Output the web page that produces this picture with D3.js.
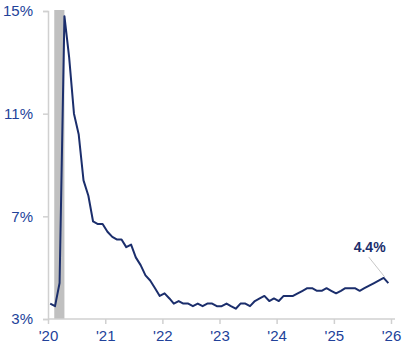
<!DOCTYPE html>
<html>
<head>
<meta charset="utf-8">
<script src="https://cdn.jsdelivr.net/npm/d3@7"></script>
<style>
  html, body { margin: 0; padding: 0; background: #fff; }
  svg { display: block; font-family: "Liberation Sans", Arial, sans-serif; }
</style>
</head>
<body>
<svg id="chart" width="406" height="348"></svg>
<script>
// Monthly unemployment rate (%), Jan 2020 – Dec 2025 (Oct 2025 not published)
const months = [
  "2020-01","2020-02","2020-03","2020-04","2020-05","2020-06","2020-07","2020-08","2020-09","2020-10","2020-11","2020-12",
  "2021-01","2021-02","2021-03","2021-04","2021-05","2021-06","2021-07","2021-08","2021-09","2021-10","2021-11","2021-12",
  "2022-01","2022-02","2022-03","2022-04","2022-05","2022-06","2022-07","2022-08","2022-09","2022-10","2022-11","2022-12",
  "2023-01","2023-02","2023-03","2023-04","2023-05","2023-06","2023-07","2023-08","2023-09","2023-10","2023-11","2023-12",
  "2024-01","2024-02","2024-03","2024-04","2024-05","2024-06","2024-07","2024-08","2024-09","2024-10","2024-11","2024-12",
  "2025-01","2025-02","2025-03","2025-04","2025-05","2025-06","2025-07","2025-08","2025-09","2025-11","2025-12"
];
const rates = [
  3.6,3.5,4.4,14.8,13.2,11.0,10.2,8.4,7.8,6.8,6.7,6.7,
  6.4,6.2,6.1,6.1,5.8,5.9,5.4,5.1,4.7,4.5,4.2,3.9,
  4.0,3.8,3.6,3.7,3.6,3.6,3.5,3.6,3.5,3.6,3.6,3.5,
  3.5,3.6,3.5,3.4,3.6,3.6,3.5,3.7,3.8,3.9,3.7,3.8,
  3.7,3.9,3.9,3.9,4.0,4.1,4.2,4.2,4.1,4.1,4.2,4.1,
  4.0,4.1,4.2,4.2,4.2,4.1,4.2,4.3,4.4,4.6,4.4
];
const yTicks = [3, 7, 11, 15];
const xTickYears = [2020, 2021, 2022, 2023, 2024, 2025, 2026];
const xTickLabels = ["'20","'21","'22","'23","'24","'25","'26"];
const recessionStart = "2020-02-10";
const recessionEnd = "2020-04-15";
const annotationText = "4.4%";

const svg = d3.select("#chart");
const parseMonth = s => { const [y, m] = s.split("-").map(Number); return new Date(y, m - 1, 15); };
const data = months.map((m, i) => ({ date: parseMonth(m), value: rates[i] }));

const x = d3.scaleTime()
  .domain([new Date(2020, 0, 1), new Date(2026, 0, 1)])
  .range([48, 391]);
const y = d3.scaleLinear().domain([3, 15]).range([319, 11]);

const textColor = "#22429a";
const axisColor = "#d0d0d0";

// recession shading
svg.append("rect")
  .attr("x", x(new Date(recessionStart)))
  .attr("y", y(15) - 1)
  .attr("width", x(new Date(recessionEnd)) - x(new Date(recessionStart)))
  .attr("height", y(3) - y(15) + 1)
  .attr("fill", "#c0c0c0");

// y axis
const yAxis = svg.append("g").attr("transform", "translate(48,0)")
  .call(d3.axisLeft(y).tickValues(yTicks).tickFormat(d => d + "%").tickSize(5).tickPadding(10));
yAxis.select(".domain").attr("stroke", axisColor).attr("stroke-width", 1.5);
yAxis.selectAll(".tick line").attr("stroke", axisColor).attr("stroke-width", 1.5);
yAxis.selectAll(".tick text").attr("fill", textColor).attr("font-size", 15)
  .attr("font-family", "Liberation Sans, Arial, sans-serif");

// x axis
const xAxis = svg.append("g").attr("transform", "translate(0,319)")
  .call(d3.axisBottom(x)
    .tickValues(xTickYears.map(yr => new Date(yr, 0, 1)))
    .tickFormat((d, i) => xTickLabels[i])
    .tickSize(5).tickPadding(6));
xAxis.select(".domain").attr("stroke", axisColor).attr("stroke-width", 1.5)
  .attr("d", "M48,0H395");
xAxis.selectAll(".tick line").attr("stroke", axisColor).attr("stroke-width", 1.5);
xAxis.selectAll(".tick text").attr("fill", textColor).attr("font-size", 15)
  .attr("font-family", "Liberation Sans, Arial, sans-serif");

// line
const line = d3.line().x(d => x(d.date)).y(d => y(d.value));
svg.append("path").datum(data)
  .attr("d", line)
  .attr("fill", "none")
  .attr("stroke", "#1b2e6c")
  .attr("stroke-width", 2)
  .attr("stroke-linejoin", "round");

// annotation
const peakPt = data[data.length - 2];
svg.append("line")
  .attr("x1", x(peakPt.date) - 15).attr("y1", y(peakPt.value) - 21)
  .attr("x2", x(peakPt.date) + 1).attr("y2", y(peakPt.value) - 1)
  .attr("stroke", "#c8c8c8").attr("stroke-width", 1);
svg.append("text")
  .attr("x", x(peakPt.date) - 14).attr("y", y(peakPt.value) - 26)
  .attr("text-anchor", "middle")
  .attr("fill", "#1b2e6c")
  .attr("font-size", 14).attr("font-weight", "bold")
  .text(annotationText);
</script>
</body>
</html>
